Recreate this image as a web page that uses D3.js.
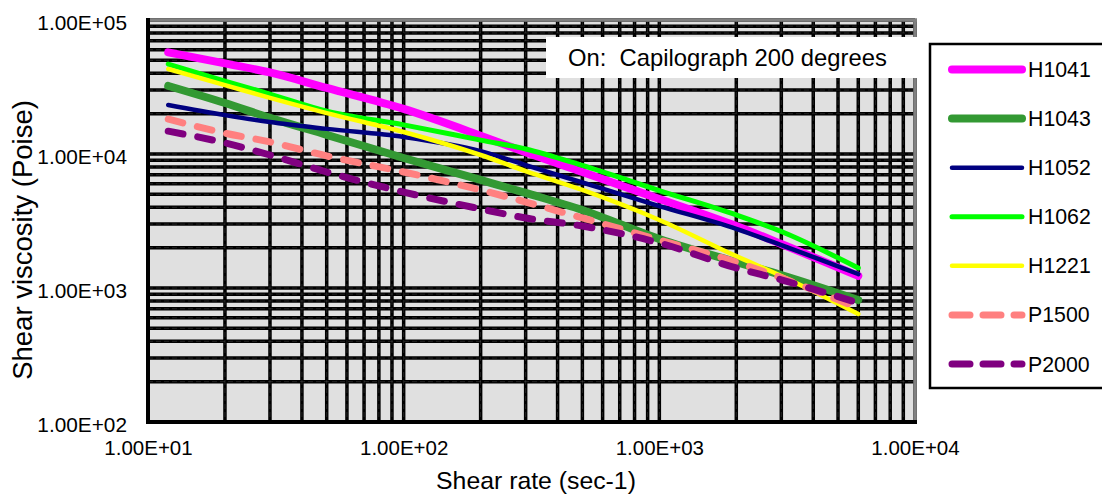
<!DOCTYPE html>
<html>
<head>
<meta charset="utf-8">
<script src="https://cdn.jsdelivr.net/npm/d3@7/dist/d3.min.js"></script>
<style>
  html, body { margin: 0; padding: 0; background: #ffffff; }
  svg { display: block; font-family: "Liberation Sans", Arial, sans-serif; }
  text { white-space: pre; }
</style>
</head>
<body>
<svg id="chart" width="1102" height="495"></svg>
<script>
// Shear rate (sec-1) at which each viscosity was measured
const shearRate = [12, 20, 30, 50, 100, 200, 300, 500, 1000, 2000, 3000, 6000];

// Shear viscosity (Poise) per material
const H1041 = [57400, 47400, 40600, 31100, 21700, 13700, 10300, 7340, 4620, 2900, 2130, 1230];
const H1043 = [32200, 24000, 18600, 13900, 9340, 6400, 5120, 3820, 2320, 1560, 1250, 813];
const H1052 = [23200, 19500, 17300, 15400, 13400, 10500, 8270, 6130, 4090, 2760, 2090, 1270];
const H1062 = [46900, 35000, 28000, 20900, 16500, 12700, 10900, 8210, 5340, 3510, 2640, 1410];
const H1221 = [43100, 32700, 26200, 20200, 14600, 9830, 7460, 5390, 3220, 1730, 1230, 640];
const P1500 = [18200, 14300, 12300, 9670, 7340, 5390, 4380, 3330, 2280, 1560, 1190, 710];
const P2000 = [14800, 12100, 9830, 7340, 5200, 3890, 3330, 2900, 2170, 1410, 1150, 773];

const seriesNames = ["H1041", "H1043", "H1052", "H1062", "H1221", "P1500", "P2000"];
const seriesValues = [H1041, H1043, H1052, H1062, H1221, P1500, P2000];

const xTickValues = [10, 100, 1000, 10000];
const yTickValues = [100, 1000, 10000, 100000];
const xTickLabels = ["1.00E+01", "1.00E+02", "1.00E+03", "1.00E+04"];
const yTickLabels = ["1.00E+02", "1.00E+03", "1.00E+04", "1.00E+05"];

const xTitle = "Shear rate (sec-1)";
const yTitle = "Shear viscosity (Poise)";
const noteText = "On:  Capilograph 200 degrees";

// Visual style per series
const styles = {
  H1041: { color: "#ff00ff", width: 8, dash: null },
  H1043: { color: "#339933", width: 8, dash: null },
  H1052: { color: "#000080", width: 4.5, dash: null },
  H1062: { color: "#00ff00", width: 5, dash: null },
  H1221: { color: "#ffff00", width: 4.5, dash: null },
  P1500: { color: "#ff8080", width: 7, dash: "15,15" },
  P2000: { color: "#800080", width: 7, dash: "15,15" }
};

const svg = d3.select("#chart");
const plot = { left: 148, right: 915, top: 20, bottom: 422 };

const x = d3.scaleLog().domain([10, 10000]).range([plot.left, plot.right]);
const y = d3.scaleLog().domain([100, 100000]).range([plot.bottom, plot.top]);

// plot background
svg.append("rect")
  .attr("x", plot.left).attr("y", plot.top)
  .attr("width", plot.right - plot.left).attr("height", plot.bottom - plot.top)
  .attr("fill", "#e0e0e0");

// every 1..9 multiple within each decade
function logGridValues(lo, hi) {
  const v = [];
  for (let d = lo; d < hi; d *= 10) for (let m = 1; m <= 9; m++) v.push(d * m);
  v.push(hi);
  return v;
}
const xGrid = logGridValues(10, 10000);
const yGrid = logGridValues(100, 100000);

const grid = svg.append("g");
grid.selectAll("line.gx").data(xGrid).join("line")
  .attr("x1", d => x(d)).attr("x2", d => x(d))
  .attr("y1", plot.top).attr("y2", plot.bottom)
  .attr("stroke", "#000").attr("stroke-width", 3.5);
grid.selectAll("line.gy").data(yGrid).join("line")
  .attr("y1", d => y(d)).attr("y2", d => y(d))
  .attr("x1", plot.left).attr("x2", plot.right)
  .attr("stroke", "#000").attr("stroke-width", 3.5);
// faint dashed sheen on the grid
grid.selectAll("line.hx").data(xGrid).join("line")
  .attr("x1", d => x(d)).attr("x2", d => x(d))
  .attr("y1", plot.top).attr("y2", plot.bottom)
  .attr("stroke", "#8a8a8a").attr("stroke-width", 0.7).attr("stroke-dasharray", "5,3").attr("opacity", 0.35);
grid.selectAll("line.hy").data(yGrid).join("line")
  .attr("y1", d => y(d)).attr("y2", d => y(d))
  .attr("x1", plot.left).attr("x2", plot.right)
  .attr("stroke", "#8a8a8a").attr("stroke-width", 0.7).attr("stroke-dasharray", "5,3").attr("opacity", 0.35);

// plot frame: gray top/right, black left/bottom
svg.append("line").attr("x1", plot.left).attr("x2", plot.right + 2)
  .attr("y1", plot.top).attr("y2", plot.top).attr("stroke", "#808080").attr("stroke-width", 3.5);
svg.append("line").attr("x1", plot.right).attr("x2", plot.right)
  .attr("y1", plot.top).attr("y2", plot.bottom).attr("stroke", "#808080").attr("stroke-width", 3.5);
svg.append("line").attr("x1", plot.left).attr("x2", plot.left)
  .attr("y1", plot.top - 2).attr("y2", plot.bottom + 2).attr("stroke", "#000").attr("stroke-width", 4);
svg.append("line").attr("x1", plot.left).attr("x2", plot.right + 2)
  .attr("y1", plot.bottom).attr("y2", plot.bottom).attr("stroke", "#000").attr("stroke-width", 4);

// axes (labels only; grid carries the lines)
const xAxis = d3.axisBottom(x).tickValues(xTickValues)
  .tickFormat((d, i) => xTickLabels[i]).tickSize(0).tickPadding(0);
const gx = svg.append("g").attr("transform", `translate(0,${plot.bottom})`).call(xAxis);
gx.select(".domain").remove();
gx.selectAll("text").attr("y", 33).attr("dy", null)
  .attr("font-size", 20.5).attr("fill", "#000")
  .attr("font-family", "'Liberation Sans', Arial, sans-serif");

const yAxis = d3.axisLeft(y).tickValues(yTickValues)
  .tickFormat((d, i) => yTickLabels[i]).tickSize(0).tickPadding(0);
const gy = svg.append("g").attr("transform", `translate(127,0)`).call(yAxis);
gy.select(".domain").remove();
gy.selectAll("text").attr("x", 0).attr("dy", "0.45em")
  .attr("font-size", 20.8).attr("fill", "#000")
  .attr("font-family", "'Liberation Sans', Arial, sans-serif");

// axis titles
svg.append("text").attr("x", 536).attr("y", 489).attr("text-anchor", "middle")
  .attr("font-size", 24.8).attr("fill", "#000").text(xTitle);
svg.append("text").attr("transform", "translate(32,240) rotate(-90)")
  .attr("text-anchor", "middle").attr("font-size", 27.5).attr("fill", "#000").text(yTitle);

// series curves
const line = d3.line()
  .x((d, i) => x(shearRate[i]))
  .y(d => y(d))
  .curve(d3.curveMonotoneX);

const lines = svg.append("g");
seriesNames.forEach((name, k) => {
  const s = styles[name];
  lines.append("path")
    .datum(seriesValues[k])
    .attr("d", line)
    .attr("fill", "none")
    .attr("stroke", s.color)
    .attr("stroke-width", s.width)
    .attr("stroke-linecap", "round")
    .attr("stroke-linejoin", "round")
    .attr("stroke-dasharray", s.dash);
});

// note box
svg.append("rect").attr("x", 546).attr("y", 37).attr("width", 372).attr("height", 41).attr("fill", "#fff");
svg.append("text").attr("x", 568).attr("y", 66).attr("font-size", 23.8).attr("fill", "#000")
  .attr("xml:space", "preserve").text(noteText);

// legend
const legend = svg.append("g");
legend.append("rect").attr("x", 930).attr("y", 44).attr("width", 200).attr("height", 344)
  .attr("fill", "#fff").attr("stroke", "#000").attr("stroke-width", 2.5);
const rowY = d3.scalePoint().domain(seriesNames).range([69.5, 364]);
seriesNames.forEach(name => {
  const s = styles[name];
  const yy = rowY(name);
  legend.append("line")
    .attr("x1", 952).attr("x2", 1022).attr("y1", yy).attr("y2", yy)
    .attr("stroke", s.color).attr("stroke-width", s.width)
    .attr("stroke-linecap", "round")
    .attr("stroke-dasharray", s.dash ? "18,13" : null);
  legend.append("text").attr("x", 1028).attr("y", yy + 7.5)
    .attr("font-size", 21.3).attr("fill", "#000").text(name);
});
</script>
</body>
</html>
